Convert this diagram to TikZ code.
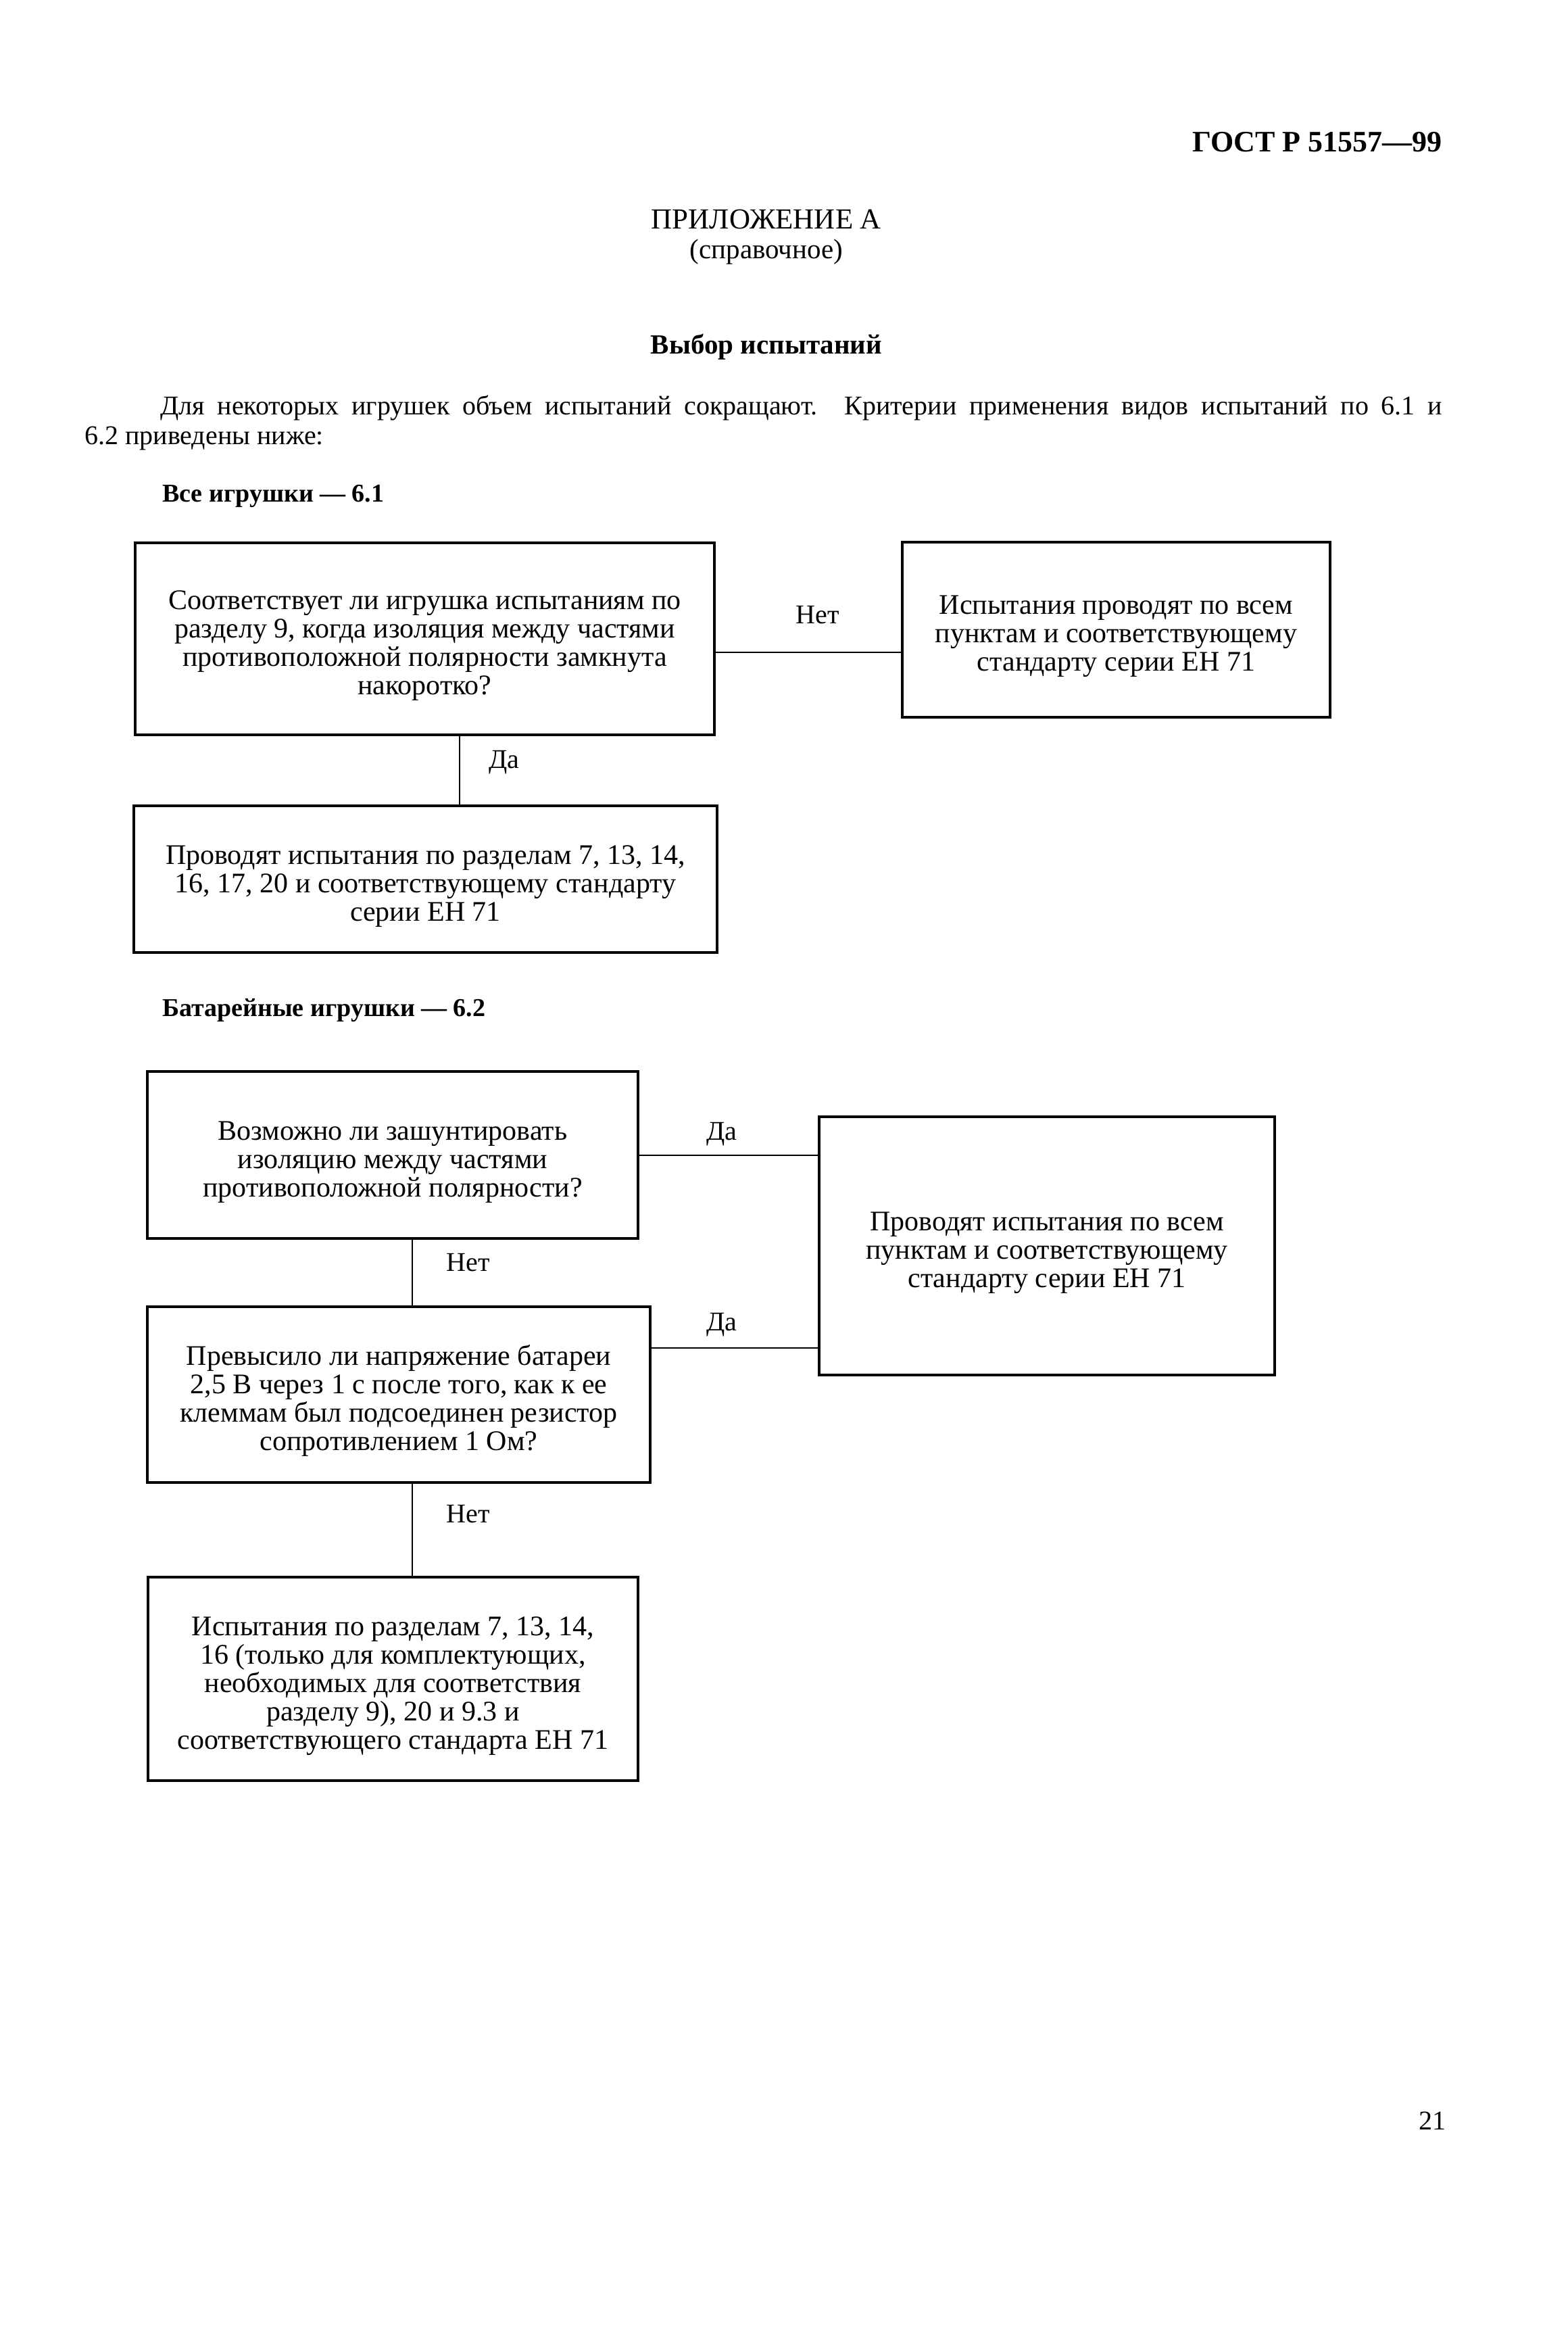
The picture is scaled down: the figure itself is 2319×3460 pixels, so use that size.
\documentclass[tikz,border=0pt]{standalone}
\usepackage{fontspec}
\setmainfont{Liberation Serif}
\newcommand{\topstrut}{\rule{0pt}{48pt}}
\begin{document}
\begin{tikzpicture}[x=1pt,y=-1pt,
  box/.style={draw,line width=3.5pt,inner sep=0pt,align=center,font=\fontsize{42}{42}\selectfont},
  conn/.style={line width=2.6pt},
  lbl/.style={inner sep=0pt,font=\fontsize{40}{42}\selectfont},
  txt/.style={inner sep=0pt,font=\fontsize{40}{44}\selectfont},
  head/.style={inner sep=0pt,anchor=base west,font=\bfseries\fontsize{38}{42}\selectfont}]
\useasboundingbox[fill=white] (0,0) rectangle (2319,3460);

% header texts
\node[inner sep=0pt,anchor=base east,font=\bfseries\fontsize{44}{48}\selectfont] (gost) at (2134,225) {ГОСТ Р 51557—99};
\node[txt,anchor=base,font=\fontsize{43}{44}\selectfont] (pril) at (1134,338) {ПРИЛОЖЕНИЕ А};
\node[txt,anchor=base,font=\fontsize{41}{44}\selectfont] (sprav) at (1134,382) {(справочное)};
\node[inner sep=0pt,anchor=base,font=\bfseries\fontsize{41}{44}\selectfont] (title) at (1134,523) {Выбор испытаний};
\node[txt,anchor=base west] (par1) at (237,613) {\makebox[1897pt][s]{Для некоторых игрушек объем испытаний сокращают. Критерии применения видов испытаний по 6.1 и}};
\node[txt,anchor=base west] (par2) at (125,657) {6.2 приведены ниже:};
\node[head] (sec1) at (240,742) {Все игрушки — 6.1};
\node[head] (sec2) at (240,1503) {Батарейные игрушки — 6.2};
\node[txt,anchor=base east] (pagenum) at (2140,3150) {21};

% section 6.1
\node[box,minimum width=857pt,minimum height=284pt] (qa) at (628.5,945)
  {\topstrut Соответствует ли игрушка испытаниям по\\разделу 9, когда изоляция между частями\\противоположной полярности замкнута\\накоротко?};
\node[box,minimum width=633pt,minimum height=259pt] (resb) at (1651.5,931.5)
  {\topstrut Испытания проводят по всем\\пунктам и соответствующему\\стандарту серии ЕН 71};
\node[box,minimum width=863pt,minimum height=217pt] (resc) at (629.5,1300.5)
  {\topstrut Проводят испытания по разделам 7, 13, 14,\\16, 17, 20 и соответствующему стандарту\\серии ЕН 71};

\coordinate (yab) at (0,965);
\coordinate (xac) at (680,0);
\draw[conn] (qa.east |- yab) -- (resb.west |- yab);
\draw[conn] (qa.south -| xac) -- (resc.north -| xac);
\node[lbl] (l1) at (1210,910) {Нет};
\node[lbl] (l2) at (746,1128) {Да};

% section 6.2
\node[box,minimum width=726pt,minimum height=247pt] (qd) at (581,1708.5)
  {\topstrut Возможно ли зашунтировать\\изоляцию между частями\\противоположной полярности?};
\node[box,minimum width=674pt,minimum height=382pt] (rese) at (1549,1843)
  {\topstrut Проводят испытания по всем\\пунктам и соответствующему\\стандарту серии ЕН 71};
\node[box,minimum width=744pt,minimum height=260pt] (qf) at (590,2063)
  {\topstrut Превысило ли напряжение батареи\\2,5 В через 1 с после того, как к ее\\клеммам был подсоединен резистор\\сопротивлением 1 Ом?};
\node[box,minimum width=725pt,minimum height=301pt] (resg) at (581.5,2483.5)
  {\topstrut Испытания по разделам 7, 13, 14,\\16 (только для комплектующих,\\необходимых для соответствия\\разделу 9), 20 и 9.3 и\\соответствующего стандарта ЕН 71};

\coordinate (yde) at (0,1709);
\coordinate (yfe) at (0,1994);
\coordinate (xdf) at (610,0);
\draw[conn] (qd.east |- yde) -- (rese.west |- yde);
\draw[conn] (qf.east |- yfe) -- (rese.west |- yfe);
\draw[conn] (qd.south -| xdf) -- (qf.north -| xdf);
\draw[conn] (qf.south -| xdf) -- (resg.north -| xdf);
\node[lbl] (l3) at (1068,1678) {Да};
\node[lbl] (l4) at (1068,1960) {Да};
\node[lbl] (l5) at (693,1868) {Нет};
\node[lbl] (l6) at (693,2240) {Нет};
\end{tikzpicture}
\end{document}
